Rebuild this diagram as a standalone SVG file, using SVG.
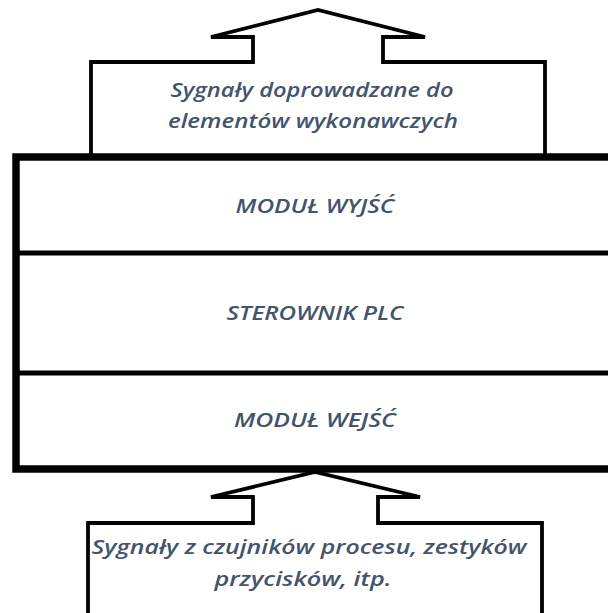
<svg xmlns="http://www.w3.org/2000/svg" width="608" height="613" viewBox="0 0 608 613">
  <style>
    .outline { fill: #ffffff; stroke: #000000; stroke-width: 3.8; stroke-linejoin: miter; }
    .frame { fill: #ffffff; stroke: #000000; stroke-width: 7.5; }
    .divider { stroke: #000000; stroke-width: 5; }
    .label { font-family: "Open Sans", Lato, "Liberation Sans", sans-serif; font-style: italic; font-weight: 600; font-size: 19.5px; fill: #44546A; text-anchor: middle; }
  </style>
  <rect width="608" height="613" fill="#ffffff"/>

  <!-- output signals: box with upward arrow -->
  <g id="output-signals">
    <path class="outline" d="M91,160 V62 H253 V37 H211 L318,10 L425,37 H383 V62 H545 V160"/>
    <text class="label" x="312" y="97" textLength="283" lengthAdjust="spacingAndGlyphs">Sygnały doprowadzane do</text>
    <text class="label" x="313" y="128" textLength="290" lengthAdjust="spacingAndGlyphs">elementów wykonawczych</text>
  </g>

  <!-- input signals: box with upward arrow into the controller -->
  <g id="input-signals">
    <path class="outline" d="M88,620 V523 H253 V497 H211 L315,472 L420,497 H378 V523 H542 V620"/>
    <text class="label" x="309" y="554" textLength="435" lengthAdjust="spacingAndGlyphs">Sygnały z czujników procesu, zestyków</text>
    <text class="label" x="303" y="586" textLength="177" lengthAdjust="spacingAndGlyphs">przycisków, itp.</text>
  </g>

  <!-- PLC stack frame -->
  <g id="plc-stack">
    <rect class="frame" x="16" y="157" width="600" height="312"/>
  </g>

  <g id="connectors">
    <line class="divider" x1="16" y1="253" x2="616" y2="253"/>
    <line class="divider" x1="16" y1="373" x2="616" y2="373"/>
  </g>

  <g id="output-module">
    <text class="label" x="315" y="213" textLength="159" lengthAdjust="spacingAndGlyphs">MODUŁ WYJŚĆ</text>
  </g>
  <g id="plc-controller">
    <text class="label" x="315" y="320" textLength="177" lengthAdjust="spacingAndGlyphs">STEROWNIK PLC</text>
  </g>
  <g id="input-module">
    <text class="label" x="315" y="427" textLength="162" lengthAdjust="spacingAndGlyphs">MODUŁ WEJŚĆ</text>
  </g>
</svg>
